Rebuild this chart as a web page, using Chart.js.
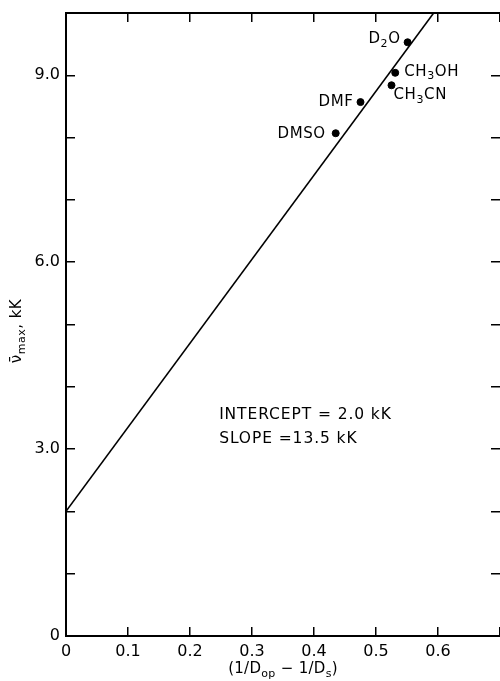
<!DOCTYPE html>
<html>
<head>
<meta charset="utf-8">
<script src="https://cdn.jsdelivr.net/npm/chart.js@4.4.0/dist/chart.umd.min.js"></script>
<style>
  html, body { margin: 0; padding: 0; background: #fff; overflow: hidden; }
  #wrap { width: 500px; height: 681px; }
</style>
</head>
<body>
<div id="wrap"><canvas id="chart"></canvas></div>
<script>
// solvents and their points
const solvents = ["D_{2}O", "CH_{3}OH", "CH_{3}CN", "DMF", "DMSO"];
const xValues = [0.551, 0.531, 0.525, 0.475, 0.435];
const yValues = [9.53, 9.04, 8.84, 8.57, 8.07];

// fitted line
const fitX = [0, 0.593];
const fitY = [2.0, 10.0];

const xTickLabels = ["0", "0.1", "0.2", "0.3", "0.4", "0.5", "0.6", ""];
const yTickLabels = ["0", "", "", "3.0", "", "", "6.0", "", "", "9.0", ""];
const notes = ["INTERCEPT = 2.0 kK", "SLOPE =13.5 kK"];

const FONT = '"DejaVu Sans", sans-serif';
Chart.defaults.font.family = FONT;
Chart.defaults.color = "#000";

// where each label sits next to its dot (px)
const labelPos = [
  { dx: -7, dy: -3, align: "right" },
  { dx: 9, dy: -1, align: "left" },
  { dx: 2, dy: 10, align: "left" },
  { dx: -7, dy: 0, align: "right" },
  { dx: -10, dy: 1, align: "right" },
];

function parts(str) {
  const out = [];
  str.split(/(_\{[^}]*\})/).forEach(s => {
    if (!s) return;
    if (s.startsWith("_{")) out.push({ t: s.slice(2, -1), sub: true });
    else out.push({ t: s });
  });
  return out;
}

function drawRich(ctx, list, x, y, size, align, spacing) {
  const big = size + "px " + FONT;
  const small = Math.round(size * 0.72) + "px " + FONT;
  ctx.letterSpacing = (spacing || 0) + "px";
  let w = 0;
  list.forEach(p => { ctx.font = p.sub ? small : big; w += ctx.measureText(p.t).width; });
  let cx = align === "center" ? x - w / 2 : align === "right" ? x - w : x;
  ctx.textAlign = "left";
  ctx.textBaseline = "middle";
  list.forEach(p => {
    ctx.font = p.sub ? small : big;
    ctx.fillText(p.t, cx, p.sub ? y + size * 0.32 : y);
    cx += ctx.measureText(p.t).width;
  });
  ctx.letterSpacing = "0px";
}

const textPlugin = {
  id: "texts",
  afterDatasetsDraw(chart) {
    const { ctx, chartArea } = chart;
    const xs = chart.scales.x, ys = chart.scales.y;
    ctx.save();
    ctx.fillStyle = "#000";
    solvents.forEach((name, i) => {
      const p = labelPos[i];
      drawRich(ctx, parts(name), xs.getPixelForValue(xValues[i]) + p.dx,
        ys.getPixelForValue(yValues[i]) + p.dy, 15, p.align, 0.6);
    });
    notes.forEach((n, i) => {
      drawRich(ctx, [{ t: n }], xs.getPixelForValue(0.247), ys.getPixelForValue(3.55) + i * 24, 15.5, "left", 0.9);
    });
    // axis titles
    drawRich(ctx, parts("(1/D_{op} \u2212 1/D_{s})"), (chartArea.left + chartArea.right) / 2, 669, 15, "center", 0.3);
    ctx.translate(17, 331);
    ctx.rotate(-Math.PI / 2);
    drawRich(ctx, parts("\u03BD\u0304_{max}, kK"), 0, 0, 15, "center", 0.5);
    ctx.restore();
  }
};

const gridOpts = { drawOnChartArea: false, tickLength: -9, color: "#000", lineWidth: 1.5 };

function noPad(s) {
  s.paddingLeft = 0; s.paddingRight = 0; s.paddingTop = 0; s.paddingBottom = 0;
}

new Chart(document.getElementById("chart"), {
  data: {
    datasets: [
      {
        type: "line",
        data: fitX.map((x, i) => ({ x, y: fitY[i] })),
        borderColor: "#000",
        borderWidth: 1.6,
        pointRadius: 0,
        fill: false,
      },
      {
        type: "scatter",
        data: xValues.map((x, i) => ({ x, y: yValues[i] })),
        backgroundColor: "#000",
        borderColor: "#000",
        pointRadius: 3.5,
      },
    ],
  },
  options: {
    responsive: true,
    maintainAspectRatio: false,
    animation: false,
    layout: { padding: 0, autoPadding: false },
    plugins: { legend: { display: false }, tooltip: { enabled: false } },
    scales: {
      x: {
        type: "linear", position: "bottom", min: 0, max: 0.7,
        ticks: { stepSize: 0.1, autoSkip: false, maxRotation: 0, padding: 15,
          font: { size: 16 }, callback: (v, i) => xTickLabels[i] },
        grid: gridOpts,
        border: { color: "#000", width: 2 },
        afterFit: s => { s.height = 45; noPad(s); },
      },
      x2: {
        type: "linear", position: "top", min: 0, max: 0.7,
        ticks: { stepSize: 0.1, display: false },
        grid: gridOpts,
        border: { color: "#000", width: 2 },
        afterFit: s => { s.height = 13; noPad(s); },
      },
      y: {
        type: "linear", position: "left", min: 0, max: 10,
        ticks: { stepSize: 1, autoSkip: false, padding: 15,
          font: { size: 16 }, callback: (v, i) => yTickLabels[i] },
        grid: gridOpts,
        border: { color: "#000", width: 2 },
        afterFit: s => { s.width = 66; noPad(s); },
      },
      y2: {
        type: "linear", position: "right", min: 0, max: 10,
        ticks: { stepSize: 1, display: false },
        grid: gridOpts,
        border: { display: false },
        afterFit: s => { s.width = 0; noPad(s); },
      },
    },
  },
  plugins: [textPlugin],
});
</script>
</body>
</html>
